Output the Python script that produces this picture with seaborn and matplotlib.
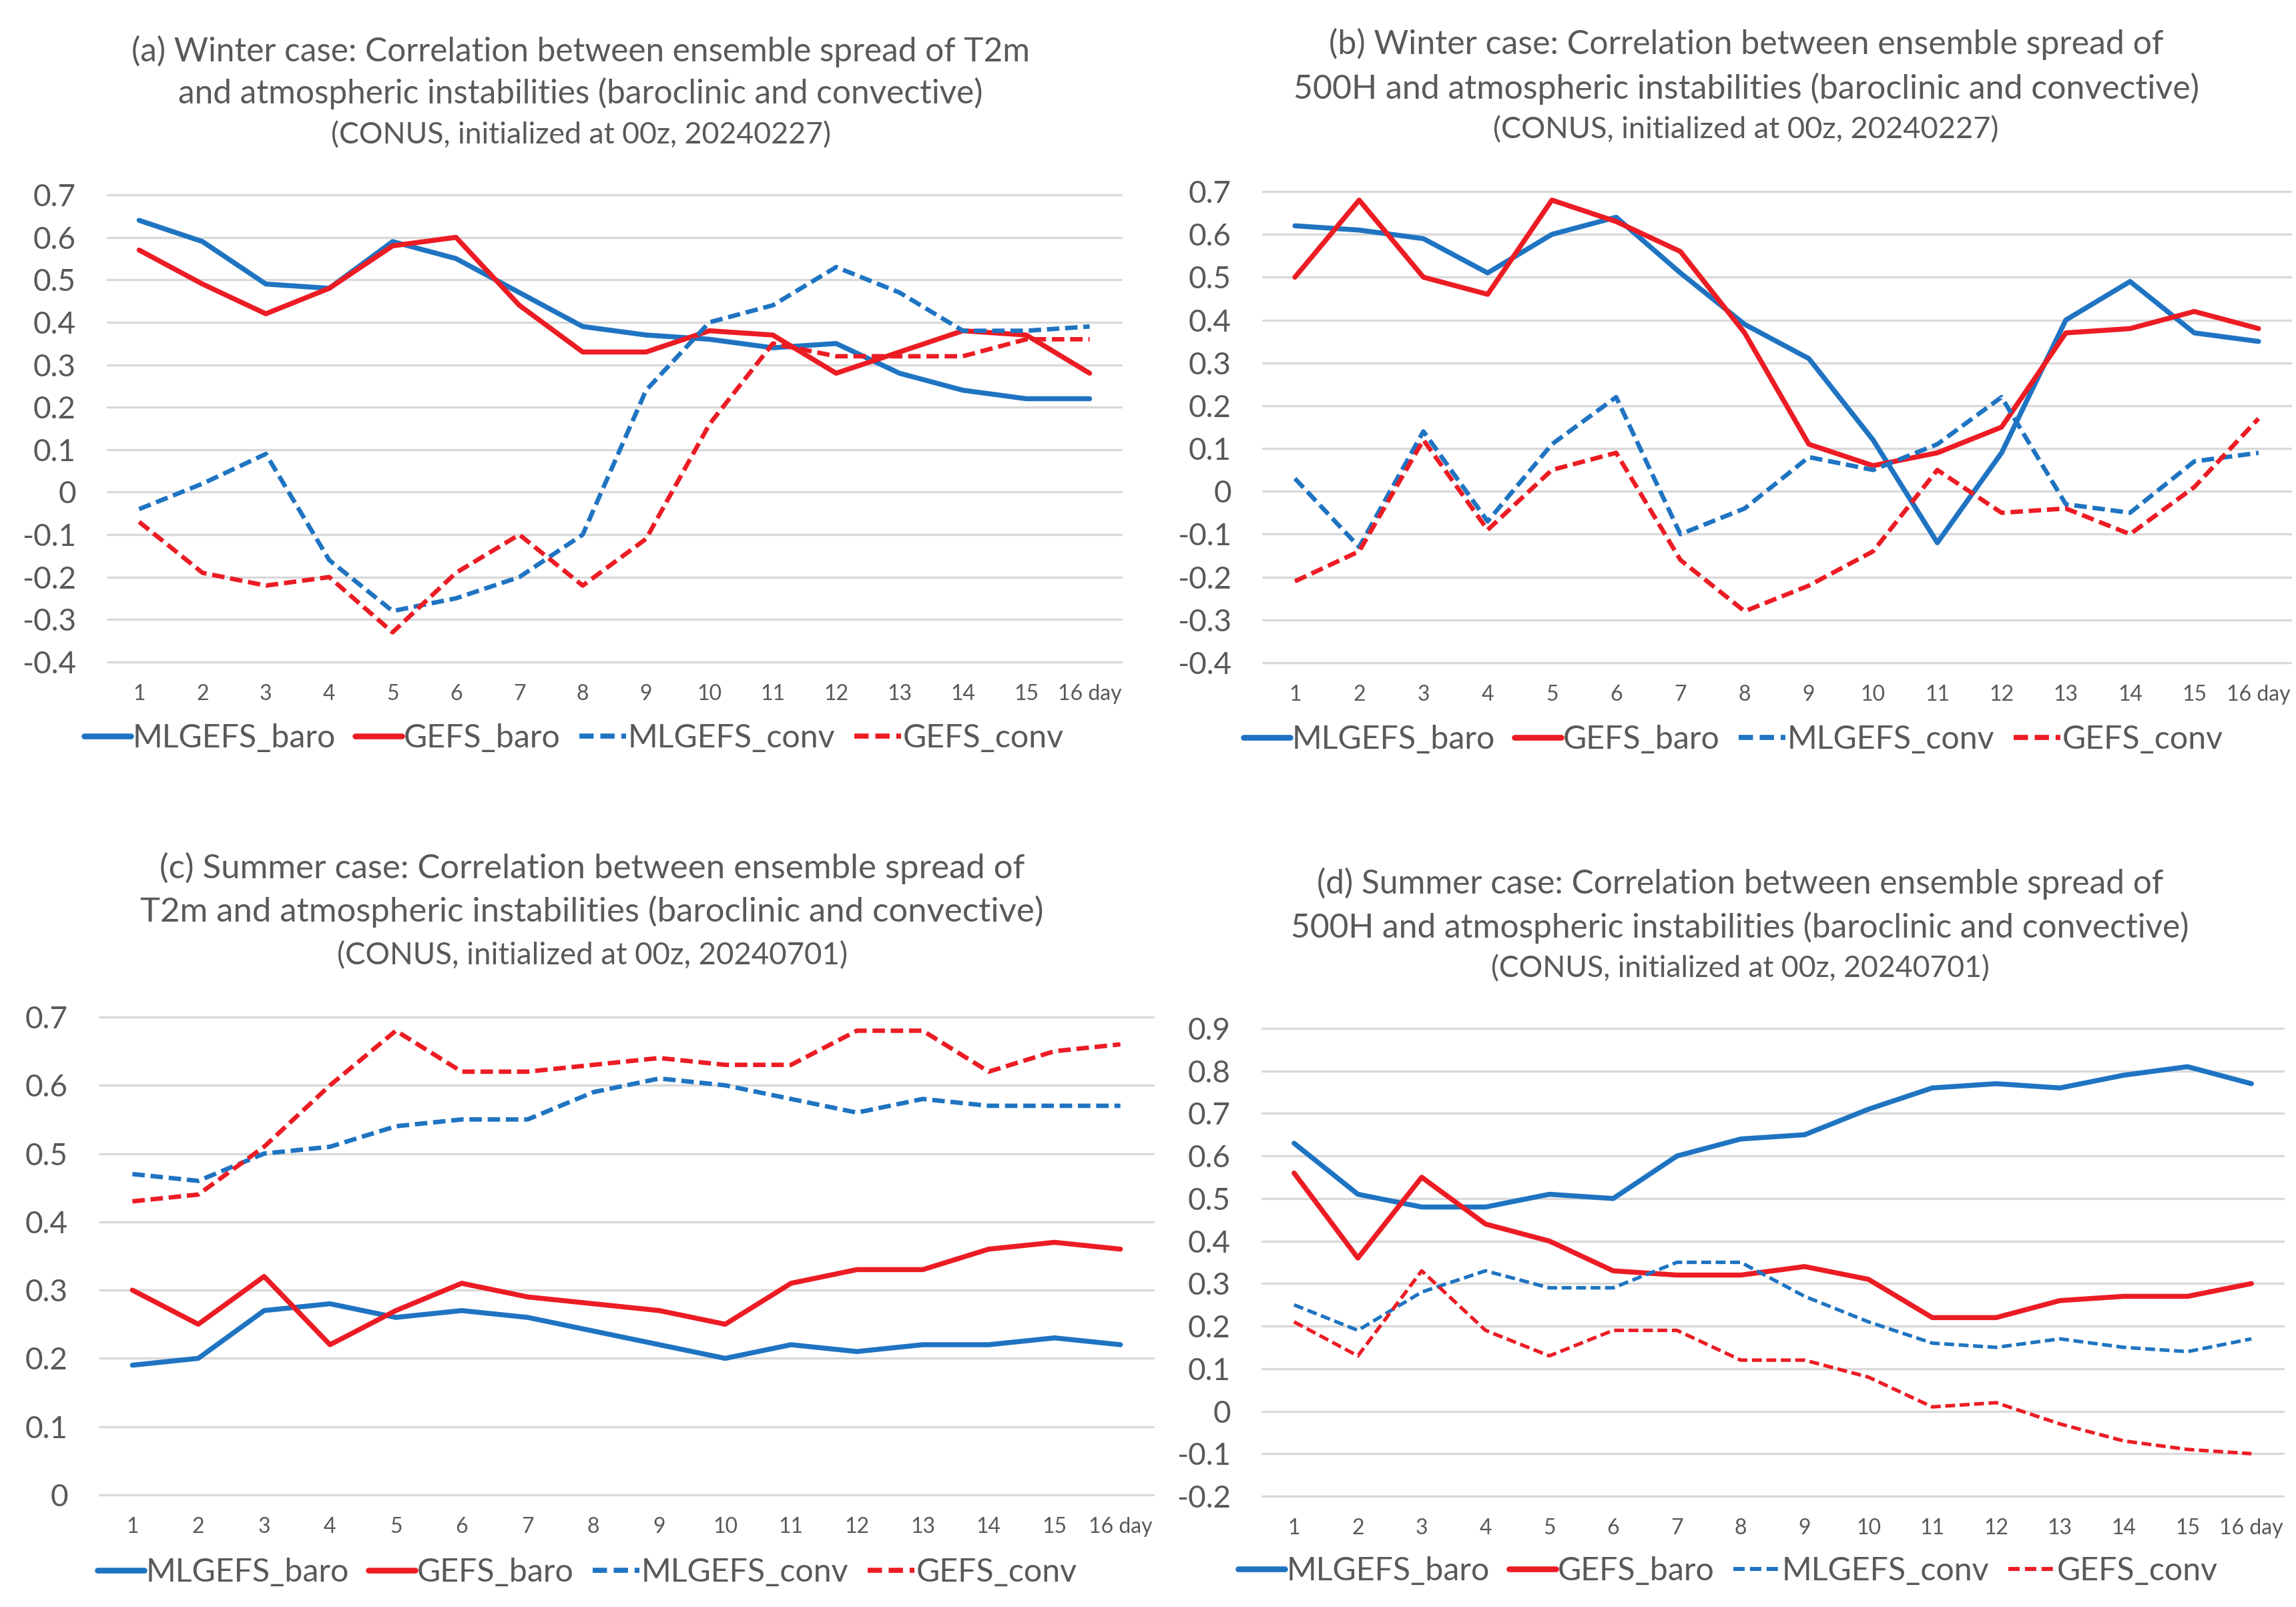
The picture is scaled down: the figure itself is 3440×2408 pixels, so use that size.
import matplotlib
matplotlib.use("Agg")
import matplotlib.pyplot as plt
import seaborn as sns
import pandas as pd
import numpy as np

# ---------------- data ----------------
days = list(range(1, 17))
day_labels = [str(d) for d in range(1, 16)] + ["16 day"]
series_names = ["MLGEFS_baro", "GEFS_baro", "MLGEFS_conv", "GEFS_conv"]

# (a) Winter, T2m
a_mlgefs_baro = [0.64, 0.59, 0.49, 0.48, 0.59, 0.55, 0.47, 0.39, 0.37, 0.36, 0.34, 0.35, 0.28, 0.24, 0.22, 0.22]
a_gefs_baro   = [0.57, 0.49, 0.42, 0.48, 0.58, 0.60, 0.44, 0.33, 0.33, 0.38, 0.37, 0.28, 0.33, 0.38, 0.37, 0.28]
a_mlgefs_conv = [-0.04, 0.02, 0.09, -0.16, -0.28, -0.25, -0.20, -0.10, 0.24, 0.40, 0.44, 0.53, 0.47, 0.38, 0.38, 0.39]
a_gefs_conv   = [-0.07, -0.19, -0.22, -0.20, -0.33, -0.19, -0.10, -0.22, -0.11, 0.16, 0.35, 0.32, 0.32, 0.32, 0.36, 0.36]

# (b) Winter, 500H
b_mlgefs_baro = [0.62, 0.61, 0.59, 0.51, 0.60, 0.64, 0.51, 0.39, 0.31, 0.12, -0.12, 0.09, 0.40, 0.49, 0.37, 0.35]
b_gefs_baro   = [0.50, 0.68, 0.50, 0.46, 0.68, 0.63, 0.56, 0.37, 0.11, 0.06, 0.09, 0.15, 0.37, 0.38, 0.42, 0.38]
b_mlgefs_conv = [0.03, -0.13, 0.14, -0.07, 0.11, 0.22, -0.10, -0.04, 0.08, 0.05, 0.11, 0.22, -0.03, -0.05, 0.07, 0.09]
b_gefs_conv   = [-0.21, -0.14, 0.12, -0.09, 0.05, 0.09, -0.16, -0.28, -0.22, -0.14, 0.05, -0.05, -0.04, -0.10, 0.01, 0.17]

# (c) Summer, T2m
c_mlgefs_baro = [0.19, 0.20, 0.27, 0.28, 0.26, 0.27, 0.26, 0.24, 0.22, 0.20, 0.22, 0.21, 0.22, 0.22, 0.23, 0.22]
c_gefs_baro   = [0.30, 0.25, 0.32, 0.22, 0.27, 0.31, 0.29, 0.28, 0.27, 0.25, 0.31, 0.33, 0.33, 0.36, 0.37, 0.36]
c_mlgefs_conv = [0.47, 0.46, 0.50, 0.51, 0.54, 0.55, 0.55, 0.59, 0.61, 0.60, 0.58, 0.56, 0.58, 0.57, 0.57, 0.57]
c_gefs_conv   = [0.43, 0.44, 0.51, 0.60, 0.68, 0.62, 0.62, 0.63, 0.64, 0.63, 0.63, 0.68, 0.68, 0.62, 0.65, 0.66]

# (d) Summer, 500H
d_mlgefs_baro = [0.63, 0.51, 0.48, 0.48, 0.51, 0.50, 0.60, 0.64, 0.65, 0.71, 0.76, 0.77, 0.76, 0.79, 0.81, 0.77]
d_gefs_baro   = [0.56, 0.36, 0.55, 0.44, 0.40, 0.33, 0.32, 0.32, 0.34, 0.31, 0.22, 0.22, 0.26, 0.27, 0.27, 0.30]
d_mlgefs_conv = [0.25, 0.19, 0.28, 0.33, 0.29, 0.29, 0.35, 0.35, 0.27, 0.21, 0.16, 0.15, 0.17, 0.15, 0.14, 0.17]
d_gefs_conv   = [0.21, 0.13, 0.33, 0.19, 0.13, 0.19, 0.19, 0.12, 0.12, 0.08, 0.01, 0.02, -0.03, -0.07, -0.09, -0.10]

a_yticks = [-0.4, -0.3, -0.2, -0.1, 0, 0.1, 0.2, 0.3, 0.4, 0.5, 0.6, 0.7]
b_yticks = [-0.4, -0.3, -0.2, -0.1, 0, 0.1, 0.2, 0.3, 0.4, 0.5, 0.6, 0.7]
c_yticks = [0, 0.1, 0.2, 0.3, 0.4, 0.5, 0.6, 0.7]
d_yticks = [-0.2, -0.1, 0, 0.1, 0.2, 0.3, 0.4, 0.5, 0.6, 0.7, 0.8, 0.9]

a_title = ["(a) Winter case: Correlation between ensemble spread of T2m",
           "and atmospheric instabilities (baroclinic and convective)",
           "(CONUS, initialized at 00z, 20240227)"]
b_title = ["(b) Winter case: Correlation between ensemble spread of",
           "500H and atmospheric instabilities (baroclinic and convective)",
           "(CONUS, initialized at 00z, 20240227)"]
c_title = ["(c) Summer case: Correlation between ensemble spread of",
           "T2m and atmospheric instabilities (baroclinic and convective)",
           "(CONUS, initialized at 00z, 20240701)"]
d_title = ["(d) Summer case: Correlation between ensemble spread of",
           "500H and atmospheric instabilities (baroclinic and convective)",
           "(CONUS, initialized at 00z, 20240701)"]

# ---------------- style ----------------
sns.set_theme(style="white")
plt.rcParams["font.family"] = ["Lato", "DejaVu Sans"]
TXT = "#595959"
BLUE = "#1f74c2"
RED = "#ec1c24"
palette = {"MLGEFS_baro": BLUE, "GEFS_baro": RED, "MLGEFS_conv": BLUE, "GEFS_conv": RED}
dash_map = {"MLGEFS_baro": "", "GEFS_baro": "", "MLGEFS_conv": (2.8, 1.3), "GEFS_conv": (2.8, 1.3)}

W, H, DPI = 3440, 2408, 200
fig = plt.figure(figsize=(W / DPI, H / DPI), dpi=DPI)
fig.patch.set_facecolor("white")
renderer = fig.canvas.get_renderer()

def text_width(s, size):
    t = fig.text(0, 0, s, fontsize=size)
    w = t.get_window_extent(renderer).width
    t.remove()
    return w

def fit_size(lines, targets, base=20.0):
    sizes = [base * tg / text_width(s, base) for s, tg in zip(lines, targets)]
    return float(np.mean(sizes))

panels = [
    dict(vals=[a_mlgefs_baro, a_gefs_baro, a_mlgefs_conv, a_gefs_conv], yticks=a_yticks,
         box=(161, 1680, 292, 992), title=a_title, tcx=870, ty=(77, 140, 203),
         tw=(1343, 1209, 749), leg=(860, 1106), dlw=2.4),
    dict(vals=[b_mlgefs_baro, b_gefs_baro, b_mlgefs_conv, b_gefs_conv], yticks=b_yticks,
         box=(1892, 3432, 287, 993), title=b_title, tcx=2616, ty=(66, 133, 195),
         tw=(1253, 1353, 756), leg=(2597, 1108), dlw=2.4),
    dict(vals=[c_mlgefs_baro, c_gefs_baro, c_mlgefs_conv, c_gefs_conv], yticks=c_yticks,
         box=(149, 1728, 1524, 2240), title=c_title, tcx=887, ty=(1301, 1366, 1432),
         tw=(1298, 1353, 765), leg=(880, 2356), dlw=2.4),
    dict(vals=[d_mlgefs_baro, d_gefs_baro, d_mlgefs_conv, d_gefs_conv], yticks=d_yticks,
         box=(1891, 3421, 1541, 2242), title=d_title, tcx=2607, ty=(1324, 1390, 1452),
         tw=(1275, 1336, 747), leg=(2589, 2354), dlw=1.9),
]

for p in panels:
    l, r, t, b = p["box"]
    ax = fig.add_axes([l / W, 1 - b / H, (r - l) / W, (b - t) / H])
    df = pd.DataFrame({
        "day": days * 4,
        "value": sum(p["vals"], []),
        "series": sum([[n] * len(days) for n in series_names], []),
    })
    size_map = {"MLGEFS_baro": 2.7, "GEFS_baro": 2.7, "MLGEFS_conv": p["dlw"], "GEFS_conv": p["dlw"]}
    sns.lineplot(data=df, x="day", y="value", hue="series", style="series", size="series",
                 hue_order=series_names, style_order=series_names, size_order=series_names,
                 palette=palette, dashes=dash_map, sizes=size_map, ax=ax,
                 solid_joinstyle="round", solid_capstyle="round", dash_joinstyle="round")
    handles, labels = ax.get_legend_handles_labels()
    if ax.get_legend() is not None:
        ax.get_legend().remove()

    yt = p["yticks"]
    ax.set_xlim(0.5, 16.5)
    ax.set_ylim(yt[0], yt[-1])
    ax.set_xticks(days)
    ax.set_xticklabels(day_labels)
    ax.set_yticks(yt)
    ax.set_yticklabels(["%g" % round(v, 1) if abs(v) > 1e-9 else "0" for v in yt])
    ax.set_xlabel("")
    ax.set_ylabel("")
    ax.grid(axis="y", color="#d9d9d9", linewidth=1.2)
    ax.grid(axis="x", visible=False)
    for gl in ax.get_ygridlines():
        gl.set_clip_on(False)
    for s in ax.spines.values():
        s.set_visible(False)
    ax.tick_params(axis="y", length=0, pad=17, labelsize=16.5, labelcolor=TXT)
    ax.tick_params(axis="x", length=0, pad=12, labelsize=11.5, labelcolor=TXT)
    ax.set_facecolor("white")

    # titles
    s12 = fit_size(p["title"][:2], p["tw"][:2])
    s3 = fit_size(p["title"][2:], p["tw"][2:])
    for i, line in enumerate(p["title"]):
        fig.text(p["tcx"] / W, 1 - p["ty"][i] / H, line, ha="center", va="center",
                 fontsize=s12 if i < 2 else s3, color=TXT)

    # legend
    sel = [labels.index(n) for n in series_names if n in labels]
    leg = fig.legend([handles[i] for i in sel], [labels[i] for i in sel], loc="center",
                     bbox_to_anchor=(p["leg"][0] / W, 1 - p["leg"][1] / H), ncol=4,
                     frameon=False, fontsize=17.4, handlelength=1.45, handletextpad=0.05,
                     columnspacing=0.6, labelcolor=TXT, borderpad=0, borderaxespad=0)
    for h in leg.get_lines():
        h.set_linewidth(h.get_linewidth() * 1.15)

fig.savefig("out.png", dpi=DPI, facecolor="white")
